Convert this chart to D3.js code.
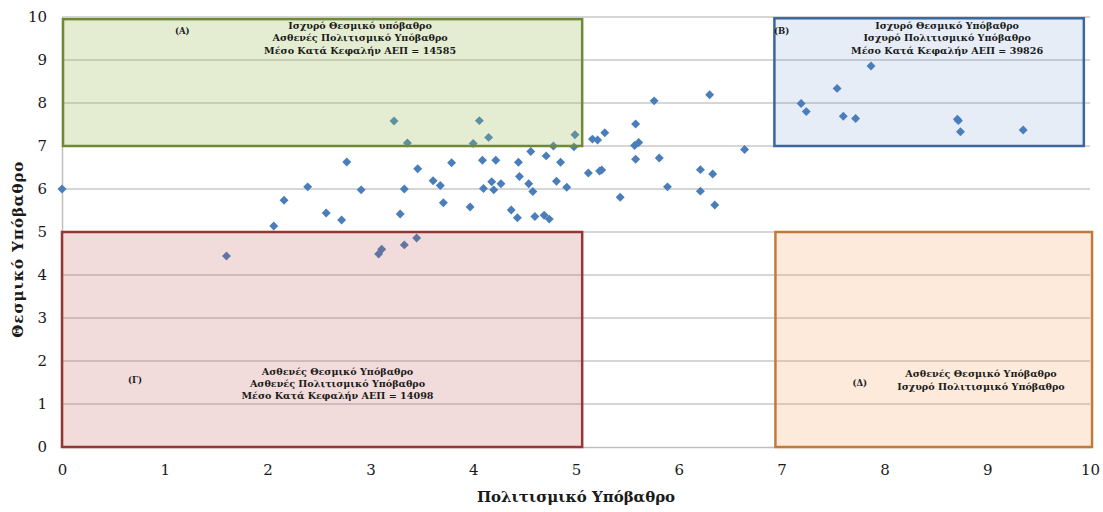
<!DOCTYPE html>
<html>
<head>
<meta charset="utf-8">
<script src="https://cdn.jsdelivr.net/npm/d3@7"></script>
<style>
  html, body { margin: 0; padding: 0; background: #fff; }
  svg { display: block; }
  text { font-family: "DejaVu Serif", "Liberation Serif", serif; fill: #1a1a1a; }
</style>
</head>
<body>
<svg id="chart" width="1103" height="512"></svg>
<script>
// ---- data ----
const xTicks = [0, 1, 2, 3, 4, 5, 6, 7, 8, 9, 10];
const yTicks = [0, 1, 2, 3, 4, 5, 6, 7, 8, 9, 10];
const xTitle = "Πολιτισμικό Υπόβαθρο";
const yTitle = "Θεσμικό Υπόβαθρο";

// cultural background (x) values
const culture = [
  0.00, 1.60, 2.06, 2.16, 2.39, 2.57, 2.77, 2.72, 2.91, 3.08, 3.11, 3.23, 3.29, 3.33, 3.33, 3.36, 3.45, 3.46,
  4.06, 4.00, 4.15, 4.78, 4.99, 4.98, 4.56, 4.71, 4.85, 4.44, 4.22, 4.09, 3.79, 3.61, 3.68,
  3.97, 4.10, 4.18, 4.20, 4.27, 4.45, 4.54, 4.58, 4.81, 4.91, 3.71, 4.37, 4.43, 4.60, 4.69, 4.74,
  5.16, 5.21, 5.28, 5.58, 5.76, 6.30, 5.57, 5.61, 5.58, 5.81, 5.12, 5.23, 5.25, 5.43, 5.89,
  6.21, 6.33, 6.21, 6.35, 6.64,
  7.19, 7.24, 7.54, 7.87, 7.60, 7.72, 8.71, 8.72, 8.74, 9.35
];
// institutional background (y) values
const institution = [
  6.00, 4.44, 5.14, 5.74, 6.05, 5.44, 6.63, 5.28, 5.98, 4.49, 4.60, 7.58, 5.42, 4.70, 6.00, 7.07, 4.86, 6.47,
  7.59, 7.06, 7.20, 7.00, 7.26, 6.98, 6.87, 6.77, 6.62, 6.62, 6.67, 6.67, 6.61, 6.19, 6.08,
  5.58, 6.01, 6.17, 5.98, 6.12, 6.29, 6.12, 5.94, 6.18, 6.04, 5.68, 5.51, 5.33, 5.36, 5.39, 5.30,
  7.16, 7.14, 7.31, 7.51, 8.05, 8.19, 7.01, 7.08, 6.69, 6.72, 6.37, 6.42, 6.44, 5.81, 6.05,
  6.45, 6.35, 5.95, 5.63, 6.92,
  7.99, 7.80, 8.34, 8.86, 7.69, 7.64, 7.62, 7.59, 7.33, 7.37
];

// quadrant regions (data units) and their captions
const quadNames = ["A", "B", "C", "D"];
const quadX0 = [0.01, 6.93, 0.00, 6.94];
const quadX1 = [5.06, 9.94, 5.06, 10.02];
const quadY0 = [7.0, 7.0, 0.0, 0.0];
const quadY1 = [9.95, 9.97, 5.0, 5.0];
const quadTags = ["(Α)", "(Β)", "(Γ)", "(Δ)"];
const quadLines = [
  ["Ισχυρό Θεσμικό υπόβαθρο", "Ασθενές Πολιτισμικό Υπόβαθρο", "Μέσο Κατά Κεφαλήν ΑΕΠ = 14585"],
  ["Ισχυρό Θεσμικό Υπόβαθρο", "Ισχυρό Πολιτισμικό Υπόβαθρο", "Μέσο Κατά Κεφαλήν ΑΕΠ = 39826"],
  ["Ασθενές Θεσμικό Υπόβαθρο", "Ασθενές Πολιτισμικό Υπόβαθρο", "Μέσο Κατά Κεφαλήν ΑΕΠ = 14098"],
  ["Ασθενές Θεσμικό Υπόβαθρο", "Ισχυρό Πολιτισμικό Υπόβαθρο"]
];
// caption anchors (data units)
const tagX = [1.17, 7.0, 0.71, 7.76];
const tagY = [9.66, 9.66, 1.54, 1.48];
const textX = [2.9, 8.61, 2.68, 8.94];
const textY = [9.78, 9.78, 1.74, 1.68];

// ---- styles ----
const quadFill = ["#9bbb59", "#4f81bd", "#c0504d", "#f79646"];
const quadFillOpacity = [0.27, 0.14, 0.2, 0.2];
const quadStroke = ["#6f8a36", "#3d669b", "#943634", "#c07a3e"];
const quadOnTop = [true, false, true, false];

// ---- drawing ----
const svg = d3.select("#chart");
const x = d3.scaleLinear().domain([0, 10]).range([62, 1090]);
const y = d3.scaleLinear().domain([0, 10]).range([447, 17]);

// gridlines
svg.append("g")
  .selectAll("line")
  .data(yTicks.filter(d => d > 0))
  .join("line")
  .attr("x1", x(0)).attr("x2", x(10))
  .attr("y1", d => y(d)).attr("y2", d => y(d))
  .attr("stroke", "#c8c8c8").attr("stroke-width", 1.5);

// axes
const xAxis = svg.append("g")
  .attr("transform", `translate(0,${y(0)})`)
  .call(d3.axisBottom(x).tickValues(xTicks).tickSize(0).tickPadding(17).tickFormat(d3.format("d")));
xAxis.select(".domain").attr("stroke", "#bfbfbf").attr("stroke-width", 1.5);
xAxis.selectAll("text").style("font-family", "DejaVu Serif").style("font-size", "15px").attr("fill", "#222");

const yAxis = svg.append("g")
  .attr("transform", `translate(${x(0)},0)`)
  .call(d3.axisLeft(y).tickValues(yTicks).tickSize(0).tickPadding(15).tickFormat(d3.format("d")));
yAxis.select(".domain").attr("stroke", "#bfbfbf").attr("stroke-width", 1.5);
yAxis.selectAll("text").style("font-family", "DejaVu Serif").style("font-size", "15px").attr("fill", "#222");

function drawQuad(i) {
  svg.append("rect")
    .attr("x", x(quadX0[i]))
    .attr("y", y(quadY1[i]))
    .attr("width", x(quadX1[i]) - x(quadX0[i]))
    .attr("height", y(quadY0[i]) - y(quadY1[i]))
    .attr("fill", quadFill[i])
    .attr("fill-opacity", quadFillOpacity[i])
    .attr("stroke", quadStroke[i])
    .attr("stroke-width", 2.5);
}

// background quadrants
quadNames.forEach((n, i) => { if (!quadOnTop[i]) drawQuad(i); });

// points
const pts = culture.map((c, i) => [c, institution[i]]);
svg.append("g")
  .selectAll("path")
  .data(pts)
  .join("path")
  .attr("d", d3.symbol().type(d3.symbolSquare).size(40))
  .attr("transform", d => `translate(${x(d[0])},${y(d[1])}) rotate(45)`)
  .attr("fill", "#4a7ebb");

// overlay quadrants
quadNames.forEach((n, i) => { if (quadOnTop[i]) drawQuad(i); });

// captions
quadNames.forEach((n, i) => {
  svg.append("text")
    .attr("x", x(tagX[i])).attr("y", y(tagY[i]))
    .attr("text-anchor", "middle").attr("dominant-baseline", "middle")
    .style("font-size", "8.5px").style("font-weight", "bold")
    .text(quadTags[i]);
  const t = svg.append("text")
    .attr("text-anchor", "middle")
    .style("font-size", "9.6px").style("font-weight", "bold");
  quadLines[i].forEach((line, k) => {
    t.append("tspan")
      .attr("x", x(textX[i]))
      .attr("y", y(textY[i]) + k * 12.3)
      .attr("dominant-baseline", "middle")
      .text(line);
  });
});

// axis titles
svg.append("text")
  .attr("x", x(5)).attr("y", 498)
  .attr("text-anchor", "middle").attr("dominant-baseline", "middle")
  .style("font-size", "15px").style("font-weight", "bold")
  .text(xTitle);

svg.append("text")
  .attr("transform", `translate(19,${y(4.6)}) rotate(-90)`)
  .attr("text-anchor", "middle").attr("dominant-baseline", "middle")
  .style("font-size", "15px").style("font-weight", "bold")
  .style("letter-spacing", "1px")
  .text(yTitle);
</script>
</body>
</html>
